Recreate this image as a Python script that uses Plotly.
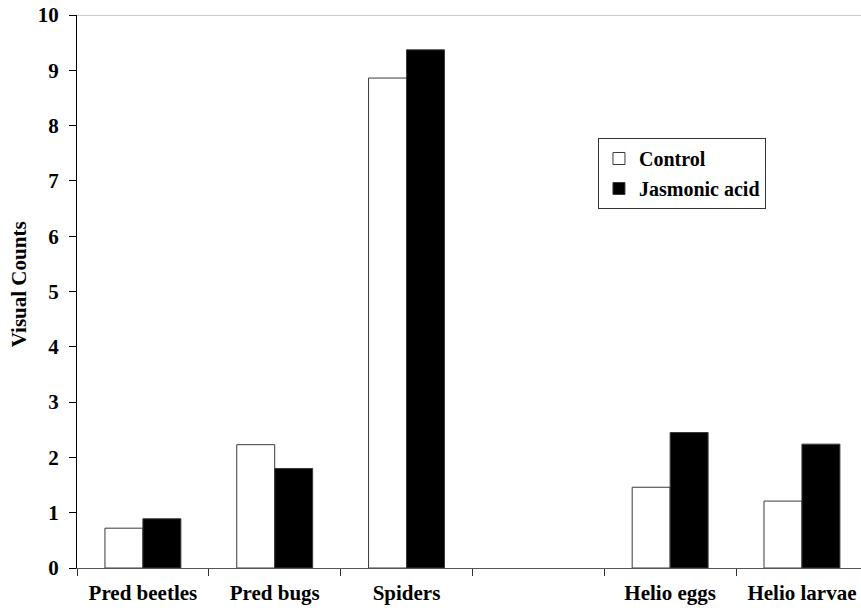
import plotly.graph_objects as go

categories = ["Pred beetles", "Pred bugs", "Spiders", " ", "Helio eggs", "Helio larvae"]
control = [0.72, 2.23, 8.86, None, 1.46, 1.21]
jasmonic = [0.89, 1.80, 9.37, None, 2.45, 2.24]
y_ticks = list(range(0, 11))

FONT = "Liberation Serif"

fig = go.Figure()
fig.add_trace(go.Bar(x=categories, y=control, name="Control", legendgroup="a",
                     marker=dict(color="white", line=dict(color="#3a3a3a", width=1))))
fig.add_trace(go.Bar(x=categories, y=jasmonic, name="Jasmonic acid", legendgroup="b",
                     marker=dict(color="black", line=dict(color="#3a3a3a", width=1))))

fig.update_layout(
    width=861, height=613,
    margin=dict(l=77, r=0, t=15, b=45),
    plot_bgcolor="white", paper_bgcolor="white",
    barmode="group", bargap=0.424, bargroupgap=0,
    font=dict(family=FONT, color="black", size=21, weight="bold"),
    showlegend=True,
    legend=dict(x=0.6645, y=0.7776, xanchor="left", yanchor="top",
                bordercolor="#333333", borderwidth=1, bgcolor="white",
                font=dict(family=FONT, size=20, color="black", weight="bold"),
                traceorder="grouped", tracegroupgap=1),
    annotations=[dict(text="Visual Counts", textangle=-90, xref="paper", yref="paper",
                      x=-0.074, y=0.513, xanchor="center", yanchor="middle", showarrow=False,
                      font=dict(family=FONT, size=21, color="black", weight="bold"))],
    shapes=[dict(type="line", xref="paper", yref="y", x0=0, x1=1, y0=10, y1=10,
                 line=dict(color="#999999", width=1))],
)
fig.update_xaxes(type="category", range=[-0.5, 5.448], showline=True, linecolor="#555555",
                 linewidth=1, ticks="outside", ticklen=7, tickcolor="#333333",
                 tickson="boundaries", showgrid=False, zeroline=False, ticklabelstandoff=6,
                 ticklabeloverflow="allow",
                 tickfont=dict(family=FONT, size=21, color="black", weight="bold"))
fig.update_yaxes(range=[0, 10], tickvals=y_ticks, showline=True, linecolor="black",
                 linewidth=1, ticks="outside", ticklen=7, tickcolor="black",
                 showgrid=False, zeroline=False, ticklabelstandoff=6,
                 ticklabeloverflow="allow",
                 tickfont=dict(family=FONT, size=21, color="black", weight="bold"))

fig.write_html("out.html", config={"displayModeBar": False},
               post_script="document.body.style.margin='0';")
